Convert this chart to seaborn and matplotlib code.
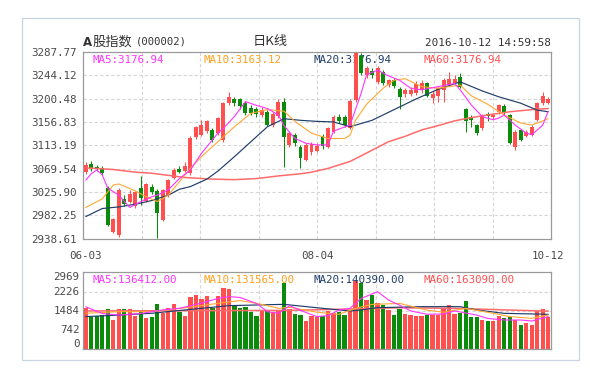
import numpy as np
import pandas as pd
import matplotlib
matplotlib.use('Agg')
import matplotlib.pyplot as plt
import seaborn as sns
from matplotlib.patches import Rectangle

sns.set_style('white')
plt.rcParams['font.family'] = ['DejaVu Sans Mono', 'Noto Sans CJK SC']

# 日K 数据
opens = [3064, 3079, 3073, 3071, 3034, 2952, 2946, 3012, 3008, 3000,
         3033, 3010, 3036, 3028, 2974, 3020, 3053, 3068, 3066, 3061,
         3128, 3133, 3140, 3142, 3136, 3124, 3192, 3200, 3199, 3192,
         3183, 3181, 3170, 3176, 3151, 3168, 3195, 3114, 3133, 3111,
         3086, 3100, 3103, 3131, 3111, 3139, 3167, 3166, 3146, 3198,
         3280, 3245, 3252, 3232, 3250, 3226, 3236, 3218, 3210, 3210,
         3212, 3216, 3229, 3201, 3205, 3217, 3226, 3229, 3241, 3182,
         3166, 3151, 3145, 3172, 3166, 3176, 3186, 3170, 3110, 3142,
         3131, 3133, 3161, 3192, 3192]
highs = [3082, 3084, 3077, 3074, 3037, 2977, 3033, 3020, 3030, 3028,
         3055, 3043, 3040, 3031, 3032, 3050, 3070, 3075, 3082, 3130,
         3150, 3160, 3161, 3146, 3167, 3195, 3213, 3203, 3202, 3196,
         3188, 3185, 3184, 3179, 3176, 3199, 3201, 3140, 3136, 3114,
         3117, 3119, 3118, 3135, 3148, 3170, 3171, 3170, 3199, 3288,
         3286, 3262, 3258, 3262, 3254, 3238, 3240, 3222, 3220, 3222,
         3234, 3236, 3232, 3215, 3223, 3240, 3251, 3244, 3248, 3183,
         3170, 3153, 3172, 3175, 3174, 3191, 3190, 3172, 3141, 3144,
         3141, 3152, 3194, 3213, 3204]
lows = [3060, 3066, 3066, 3057, 2963, 2949, 2941, 3000, 3005, 2996,
        3002, 3007, 3022, 2940, 2971, 3017, 3050, 3061, 3063, 3058,
        3125, 3130, 3136, 3120, 3132, 3120, 3189, 3186, 3182, 3170,
        3169, 3167, 3166, 3149, 3148, 3165, 3073, 3110, 3112, 3070,
        3083, 3096, 3100, 3106, 3108, 3136, 3155, 3147, 3143, 3195,
        3245, 3240, 3240, 3228, 3226, 3222, 3221, 3182, 3204, 3205,
        3208, 3212, 3203, 3192, 3195, 3195, 3224, 3226, 3220, 3139,
        3148, 3133, 3142, 3158, 3163, 3172, 3170, 3116, 3105, 3121,
        3128, 3130, 3158, 3189, 3190]
closes = [3076, 3071, 3070, 3061, 2965, 2975, 3029, 3003, 3022, 3025,
          3014, 3040, 3026, 2987, 3029, 3048, 3067, 3064, 3074, 3126,
          3147, 3152, 3158, 3124, 3164, 3192, 3204, 3192, 3186, 3174,
          3173, 3172, 3180, 3152, 3172, 3195, 3129, 3136, 3118, 3089,
          3114, 3115, 3112, 3112, 3145, 3167, 3158, 3151, 3196, 3285,
          3248, 3257, 3245, 3257, 3229, 3235, 3225, 3204, 3216, 3216,
          3228, 3229, 3206, 3210, 3220, 3235, 3238, 3238, 3223, 3158,
          3160, 3136, 3170, 3168, 3170, 3188, 3174, 3118, 3139, 3123,
          3139, 3147, 3192, 3206, 3199]
volumes = [1610, 1230, 1280, 1340, 1550, 1135, 1570, 1540, 1560, 1280,
           1470, 1190, 1260, 1747, 1390, 1600, 1730, 1420, 1290, 2030,
           2090, 1940, 2070, 1580, 2070, 2380, 2320, 1680, 1610, 1640,
           1450, 1300, 1500, 1480, 1420, 1480, 2550, 1560, 1380, 1330,
           1090, 1290, 1240, 1300, 1480, 1400, 1420, 1330, 1520, 2650,
           2550, 1900, 2100, 1780, 1700, 1500, 1330, 1570, 1380, 1330,
           1290, 1290, 1336, 1336, 1340, 1600, 1700, 1350, 1400, 1880,
           1240, 1230, 1140, 1080, 1100, 1280, 1220, 1250, 1140, 950,
           1000, 950, 1470, 1540, 1230]

# 均线 (读图的折点)
ma5_idx = [0, 1, 2, 3, 4, 6, 8, 10, 12, 13, 15, 17, 19, 21, 24, 25, 27, 29, 31, 33,
           35, 36, 38, 40, 42, 44, 45, 48, 50, 51, 53, 55, 57, 59, 61, 64, 67, 68, 70,
           72, 74, 75, 76, 78, 80, 81, 83, 84]
ma5_val = [3048, 3060, 3067, 3058, 3033, 3020, 2997, 3008, 3017, 3020, 3030, 3051, 3067,
           3098, 3136, 3145, 3167, 3195, 3188, 3182, 3170, 3150, 3126, 3117, 3114, 3114,
           3140, 3151, 3210, 3245, 3254, 3243, 3235, 3220, 3217, 3223, 3229, 3217, 3189,
           3167, 3161, 3164, 3170, 3151, 3136, 3133, 3151, 3177]
ma10_idx = [0, 3, 5, 6, 9, 11, 13, 15, 17, 19, 21, 24, 27, 30, 33, 36, 38, 41, 44, 47,
            48, 49, 51, 54, 56, 58, 61, 64, 68, 70, 73, 76, 79, 81, 84]
ma10_val = [2997, 3013, 3039, 3041, 3028, 3017, 3008, 3020, 3045, 3070, 3092, 3120, 3148,
            3173, 3180, 3177, 3158, 3136, 3126, 3126, 3132, 3160, 3190, 3220, 3235, 3238,
            3223, 3220, 3226, 3206, 3190, 3170, 3155, 3151, 3163]
ma20_idx = [0, 3, 6, 9, 12, 15, 17, 19, 22, 24, 27, 30, 33, 36, 39, 42, 45, 48, 52, 56,
            60, 64, 68, 72, 75, 79, 82, 84]
ma20_val = [2980, 2995, 2998, 3003, 3010, 3020, 3031, 3036, 3050, 3065, 3092, 3120, 3148,
            3163, 3160, 3158, 3157, 3148, 3160, 3180, 3200, 3218, 3232, 3215, 3204, 3192,
            3179, 3176]
ma60_idx = [0, 5, 9, 12, 18, 23, 27, 31, 35, 39, 41, 44, 48, 52, 55, 58, 61, 64, 67, 70,
            73, 77, 81, 84]
ma60_val = [3071, 3068, 3063, 3061, 3053, 3050, 3049, 3051, 3056, 3060, 3063, 3070, 3083,
            3104, 3120, 3130, 3142, 3150, 3159, 3165, 3170, 3176, 3180, 3182]

vma5_idx = [0, 3, 6, 10, 14, 17, 21, 24, 26, 28, 31, 33, 35, 37, 40, 42, 44, 46, 48, 50,
            53, 55, 57, 59, 62, 65, 67, 71, 73, 76, 79, 81, 84]
vma5_val = [1640, 1380, 1320, 1380, 1520, 1580, 1780, 1960, 2030, 2000, 1770, 1450, 1390,
            1680, 1420, 1260, 1300, 1510, 1580, 1960, 2220, 1900, 1700, 1480, 1350, 1360,
            1480, 1320, 1190, 1130, 1130, 1090, 1260]
vma10_idx = [0, 6, 12, 18, 24, 28, 32, 35, 37, 42, 46, 49, 52, 57, 62, 65, 69, 74, 77, 81, 84]
vma10_val = [1390, 1450, 1450, 1600, 1770, 1880, 1730, 1580, 1620, 1430, 1350, 1580, 1730,
             1770, 1510, 1430, 1580, 1390, 1260, 1195, 1320]
vma20_idx = [0, 6, 12, 18, 26, 36, 43, 48, 50, 53, 61, 68, 71, 76, 84]
vma20_val = [1260, 1320, 1390, 1516, 1683, 1734, 1580, 1477, 1516, 1606, 1644, 1644, 1516,
             1387, 1349]
vma60_idx = [0, 20, 37, 45, 57, 67, 76, 84]
vma60_val = [1480, 1490, 1500, 1540, 1600, 1580, 1520, 1470]

price_ticks = [2938.61, 2982.25, 3025.90, 3069.54, 3113.19, 3156.83, 3200.48, 3244.12, 3287.77]
vol_ticks = [0, 742, 1484, 2226, 2969]
date_pos = [0, 42, 84]
date_labels = ['06-03', '08-04', '10-12']

main_labels = ['MA5:3176.94', 'MA10:3163.12', 'MA20:3176.94', 'MA60:3176.94']
vol_labels = ['MA5:136412.00', 'MA10:131565.00', 'MA20:140390.00', 'MA60:163090.00']

RED, GREEN = '#ff4f4f', '#0a8c0a'
MA_COLORS = ['#ff33ff', '#ffa833', '#1f3d6b', '#ff6b6b']
LABEL_COLORS = ['#ff33ff', '#ffa01e', '#1f3d6b', '#ff5050']

df = pd.DataFrame({'open': opens, 'high': highs, 'low': lows, 'close': closes, 'vol': volumes})
df['i'] = np.arange(len(df))
df['color'] = np.where(df['close'] >= df['open'], RED, GREEN)

W, H = 590, 369
fig = plt.figure(figsize=(W / 100, H / 100), dpi=100)
fig.patch.set_facecolor('white')
fig.add_artist(Rectangle((21.5 / W, 1 - 360 / H), 557 / W, 342 / H, transform=fig.transFigure,
                         fill=False, ec='#c9d4e2', lw=0.9))

ax = fig.add_axes([83 / W, 1 - 238.67 / H, 468 / W, 186.67 / H])
axv = fig.add_axes([83 / W, 1 - 349.3 / H, 468 / W, 77 / H])

n = len(df)
grid_kw = dict(color='#d6d6d6', lw=0.8, ls=(0, (3, 2)), zorder=0.5)
for a in (ax, axv):
    a.set_xlim(-0.5, n - 0.5)
    for k in range(1, 8):
        a.axvline(-0.5 + n / 8 * k, **grid_kw)
    for s in a.spines.values():
        s.set_color('#9a9a9a')
        s.set_linewidth(0.9)
    a.tick_params(length=0, labelsize=7.8, labelcolor='#4a4a4a')

# K 线
ax.vlines(df['i'], df['low'], df['high'], colors=df['color'], lw=0.75, zorder=3)
body = (df['close'] - df['open']).abs().clip(lower=0.9)
ax.bar(df['i'], body, bottom=df[['open', 'close']].min(axis=1), width=0.72,
       color=df['color'], lw=0, zorder=3)

for idx, val, c, lw in zip([ma60_idx, ma20_idx, ma10_idx, ma5_idx],
                           [ma60_val, ma20_val, ma10_val, ma5_val],
                           MA_COLORS[::-1], [1.1, 0.85, 0.8, 0.8]):
    sns.lineplot(x=idx, y=val, color=c, lw=lw, ax=ax, zorder=4, sort=False)

ax.set_ylim(price_ticks[0], price_ticks[-1])
ax.set_yticks(price_ticks)
ax.set_yticklabels([f'{v:.2f}' for v in price_ticks])
for v in price_ticks[1:-1]:
    ax.axhline(v, **grid_kw)
ax.set_xticks(date_pos)
ax.set_xticklabels(date_labels)
ax.tick_params(axis='y', pad=4.5)
ax.tick_params(axis='x', pad=9)

xs = [0.021, 0.2565, 0.4915, 0.7265]
for x, t, c in zip(xs, main_labels, LABEL_COLORS):
    ax.text(x, 0.955, t, transform=ax.transAxes, color=c, fontsize=7.8, va='center', zorder=1)

# 成交量
axv.bar(df['i'], df['vol'], width=0.78, color=df['color'], lw=0, zorder=2)
for idx, val, c, lw in zip([vma60_idx, vma20_idx, vma10_idx, vma5_idx],
                           [vma60_val, vma20_val, vma10_val, vma5_val], MA_COLORS[::-1],
                           [1.1, 0.85, 0.8, 0.8]):
    sns.lineplot(x=idx, y=val, color=c, lw=lw, ax=axv, zorder=4, sort=False)
axv.set_ylim(0, vol_ticks[-1])
axv.set_yticks(vol_ticks)
axv.set_yticklabels([str(v) for v in vol_ticks])
for lab, va in zip(axv.get_yticklabels(), ['bottom', 'center', 'center', 'center', 'top']):
    lab.set_verticalalignment(va)
for v in vol_ticks[1:-1]:
    axv.axhline(v, **grid_kw)
axv.set_xticks([])
axv.tick_params(axis='y', pad=2.5)
for x, t, c in zip(xs, vol_labels, LABEL_COLORS):
    axv.text(x, 0.9, t, transform=axv.transAxes, color=c, fontsize=7.8, va='center', zorder=5)
for a in (ax, axv):
    a.set_xlabel('')
    a.set_ylabel('')

# 标题行
ty = 1 - 42 / H
cjk = ['Noto Sans CJK SC', 'DejaVu Sans']
fig.text(83 / W, ty, 'A', fontsize=8.5, fontweight='bold', color='#333333', va='center',
         family='DejaVu Sans')
fig.text(93 / W, ty, '股指数', fontsize=9.5, color='#333333', va='center', family=cjk)
fig.text(136 / W, ty, '(000002)', fontsize=7.6, color='#333333', va='center')
fig.text(270 / W, ty, '日K线', fontsize=9.5, color='#333333', va='center', ha='center',
         family=cjk)
fig.text(551 / W, 1 - 43 / H, '2016-10-12 14:59:58', fontsize=7.9, color='#333333',
         va='center', ha='right')

fig.savefig('out.png', dpi=100)
